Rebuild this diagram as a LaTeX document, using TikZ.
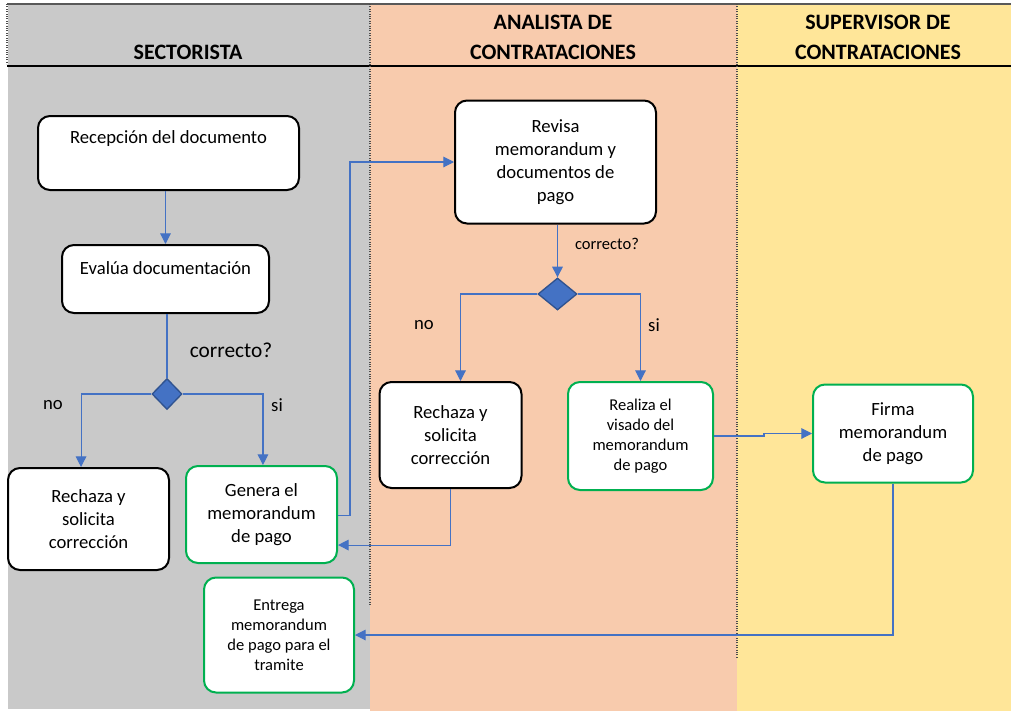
\documentclass[tikz,border=0pt]{standalone}
\usepackage{fontspec}
\setmainfont{Carlito}
\usetikzlibrary{arrows.meta,shapes.geometric}
\definecolor{lanegray}{HTML}{C9C9C9}
\definecolor{laneorange}{HTML}{F8CBAD}
\definecolor{laneyellow}{HTML}{FFE699}
\definecolor{flowblue}{HTML}{4472C4}
\definecolor{diamondedge}{HTML}{2F528F}
\definecolor{okgreen}{HTML}{00B050}
\tikzset{
  box/.style={draw=black, line width=1.5pt, rounded corners=9pt, fill=white, inner sep=0pt, align=center, font=\fontsize{14}{17.25}\selectfont},
  gbox/.style={box, draw=okgreen},
  sbox/.style={gbox, font=\fontsize{12.4}{15}\selectfont},
  dec/.style={diamond, draw=diamondedge, line width=1pt, fill=flowblue, inner sep=0pt, aspect=1},
  conn/.style={draw=flowblue, line width=0.8pt},
  arr/.style={conn, -{Triangle[length=8pt,width=8pt]}},
  hdr/.style={font=\fontsize{16.5}{19}\selectfont\bfseries, inner sep=0pt},
  lbl/.style={font=\fontsize{14}{17}\selectfont, inner sep=0pt},
  slbl/.style={font=\fontsize{12.4}{15}\selectfont, inner sep=0pt},
  lanesep/.style={draw=black!70, line width=0.8pt, densely dotted}
}
\begin{document}
\begin{tikzpicture}[x=0.75pt,y=-0.75pt]
\useasboundingbox (0,0) rectangle (1011,711);
% lanes
\fill[white] (0,0) rectangle (1011,711);
\fill[lanegray] (8,4) rectangle (370,709);
\fill[laneorange] (370,4) rectangle (737,711);
\fill[laneyellow] (737,4) rectangle (1011,711);
\draw[black!65, line width=1.2pt] (7,4) -- (1011,4);
\draw[black, line width=2pt] (7,66) -- (1011,66);
\draw[lanesep] (7,4) -- (7,64);
\draw[lanesep] (370,4) -- (370,605);
\draw[lanesep] (737,4) -- (737,659);
% headers
\node[hdr] (h1) at (188,52) {SECTORISTA};
\node[hdr] (h2a) at (553,22) {ANALISTA DE};
\node[hdr] (h2b) at (553,52) {CONTRATACIONES};
\node[hdr] (h3a) at (878,22) {SUPERVISOR DE};
\node[hdr] (h3b) at (878,52) {CONTRATACIONES};
% nodes
\node[box, minimum width={261*0.75pt}, minimum height={74*0.75pt}] (rec) at (168.5,153) {};
\node[lbl] (rect) at (168.5,139) {Recepción del documento};
\node[box, minimum width={207*0.75pt}, minimum height={68*0.75pt}] (eva) at (165.5,279) {};
\node[lbl] (evat) at (165.5,268) {Evalúa documentación};
\node[dec, minimum width={30*0.75pt}, minimum height={31*0.75pt}] (d1) at (167,394) {};
\node[box, minimum width={161*0.75pt}, minimum height={102*0.75pt}] (rz1) at (88.5,519) {Rechaza y\\solicita\\corrección};
\node[gbox, minimum width={151*0.75pt}, minimum height={97*0.75pt}] (gen) at (261.5,514.5) {Genera el\\memorandum\\de pago};
\node[sbox, minimum width={150*0.75pt}, minimum height={115*0.75pt}] (ent) at (279,635) {Entrega\\memorandum\\de pago para el\\tramite};
\node[box, minimum width={201*0.75pt}, minimum height={123*0.75pt}] (rev) at (555.5,162) {Revisa\\memorandum y\\documentos de\\pago};
\node[dec, minimum width={39*0.75pt}, minimum height={32*0.75pt}] (d2) at (557.5,294) {};
\node[box, minimum width={142*0.75pt}, minimum height={106*0.75pt}] (rz2) at (450.5,435) {Rechaza y\\solicita\\corrección};
\node[sbox, minimum width={145*0.75pt}, minimum height={108*0.75pt}] (rea) at (640.5,436) {Realiza el\\visado del\\memorandum\\de pago};
\node[gbox, minimum width={160*0.75pt}, minimum height={98*0.75pt}] (fir) at (893,433.5) {Firma\\memorandum\\de pago};
% labels
\node[font=\fontsize{16}{19}\selectfont, inner sep=0pt] (c1) at (231,350) {correcto?};
\node[lbl] (no1) at (53,405) {no};
\node[lbl] (si1) at (277,405) {si};
\node[slbl] (c2) at (607,244) {correcto?};
\node[lbl] (no2) at (424,325) {no};
\node[lbl] (si2) at (654,325) {si};
% connectors
\draw[arr] (eva.north |- rec.south) -- (eva.north);
\draw[conn] (d1.north |- eva.south) -- (d1.north);
\draw[arr] (d1.west) -| ([xshift=-5.6pt]rz1.north);
\draw[arr] (d1.east) -| ([xshift=1.1pt]gen.north);
\draw[arr] ([yshift=-1pt]gen.east) -- ++(12,0) |- (rev.west);
\draw[arr] (d2.north |- rev.south) -- (d2.north);
\draw[arr] (d2.west) -| ([xshift=7.5pt]rz2.north);
\draw[arr] (d2.east) -| (rea.north);
\draw[arr] (rz2.south) |- ([yshift=-22.9pt]gen.east);
\draw[arr] (rea.east) -- ++(50,0) |- (fir.west);
\draw[arr] (fir.south) |- (ent.east);
\end{tikzpicture}
\end{document}
